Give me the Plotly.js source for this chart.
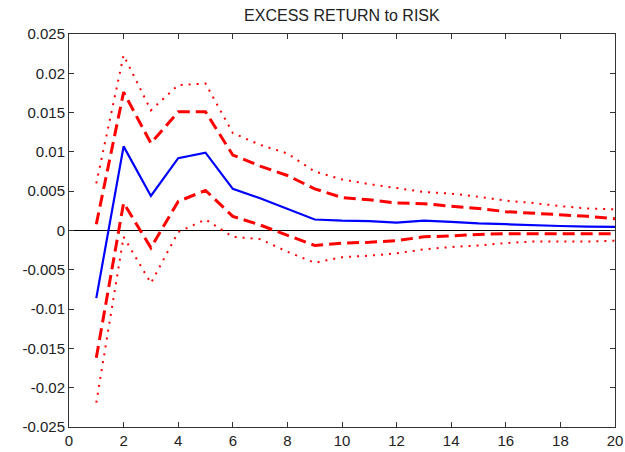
<!DOCTYPE html>
<html>
<head>
<meta charset="utf-8">
<script src="https://cdn.plot.ly/plotly-3.0.1.min.js"></script>
<style>html,body{margin:0;padding:0;background:#fff;}#chart{width:625px;height:452px;}</style>
</head>
<body>
<div id="chart"></div>
<script>
const horizon = [1,2,3,4,5,6,7,8,9,10,11,12,13,14,15,16,17,18,19,20];
const median = [-0.0086, 0.0107, 0.0044, 0.0092, 0.0099, 0.0053, 0.0041, 0.0028, 0.0014, 0.00125, 0.0012, 0.001, 0.00125, 0.0011, 0.0009, 0.0008, 0.00066, 0.00057, 0.0005, 0.00045];
const upperDash = [0.0008, 0.0176, 0.0111, 0.0151, 0.0151, 0.0096, 0.0082, 0.0070, 0.0053, 0.0042, 0.0039, 0.0035, 0.0034, 0.0031, 0.0028, 0.0024, 0.0022, 0.0020, 0.0018, 0.0015];
const lowerDash = [-0.0162, 0.0035, -0.0022, 0.0037, 0.0051, 0.0018, 0.0007, -0.0006, -0.0019, -0.0016, -0.0015, -0.0013, -0.0008, -0.0007, -0.0005, -0.0004, -0.0004, -0.0004, -0.0004, -0.0004];
const upperDot = [0.0060, 0.0223, 0.0153, 0.0185, 0.0187, 0.0124, 0.0109, 0.0098, 0.0075, 0.0065, 0.0059, 0.0054, 0.0049, 0.0047, 0.0043, 0.0038, 0.0035, 0.0031, 0.0028, 0.0027];
const lowerDot = [-0.0219, -0.0008, -0.0067, -0.0002, 0.0014, -0.0008, -0.0011, -0.0027, -0.0041, -0.0034, -0.0032, -0.0029, -0.0024, -0.0021, -0.0019, -0.0016, -0.0014, -0.0014, -0.0014, -0.0013];
const yTickVals = [-0.025, -0.02, -0.015, -0.01, -0.005, 0, 0.005, 0.01, 0.015, 0.02, 0.025];
const yTickText = ["-0.025", "-0.02", "-0.015", "-0.01", "-0.005", "0", "0.005", "0.01", "0.015", "0.02", "0.025"];
const xTickVals = [0,2,4,6,8,10,12,14,16,18,20];
const titleText = "EXCESS RETURN to RISK";

const red = "#ff0000", blue = "#0000ff";
const traces = [
  {x: horizon, y: upperDot, mode: "lines", line: {color: red, width: 2, dash: "2px,6px"}},
  {x: horizon, y: lowerDot, mode: "lines", line: {color: red, width: 2, dash: "2px,6px"}},
  {x: horizon, y: upperDash, mode: "lines", line: {color: red, width: 3, dash: "12px,6px"}},
  {x: horizon, y: lowerDash, mode: "lines", line: {color: red, width: 3, dash: "12px,6px"}},
  {x: horizon, y: median, mode: "lines", line: {color: blue, width: 2.2}}
];
const font = {family: "Liberation Sans, Arial, sans-serif", size: 15, color: "#222"};
const titleFont = {family: "Liberation Sans, Arial, sans-serif", size: 16, color: "#222"};
const axisCommon = {
  showline: true, mirror: "ticks", linecolor: "#333", linewidth: 1,
  ticks: "inside", ticklen: 5, tickcolor: "#333", showgrid: false,
  tickfont: font
};
const layout = {
  width: 625, height: 452,
  margin: {l: 69, r: 10, t: 34, b: 25},
  paper_bgcolor: "#fff", plot_bgcolor: "#fff",
  showlegend: false,
  title: {text: titleText, font: titleFont, x: 0.547, xanchor: "center", y: 0.965, yanchor: "middle"},
  xaxis: Object.assign({}, axisCommon, {range: [0, 20], tickvals: xTickVals, zeroline: false}),
  yaxis: Object.assign({}, axisCommon, {range: [-0.025, 0.025], tickvals: yTickVals, ticktext: yTickText,
    zeroline: true, zerolinecolor: "#000", zerolinewidth: 1})
};
Plotly.newPlot("chart", traces, layout, {displayModeBar: false, staticPlot: true});
</script>
</body>
</html>
